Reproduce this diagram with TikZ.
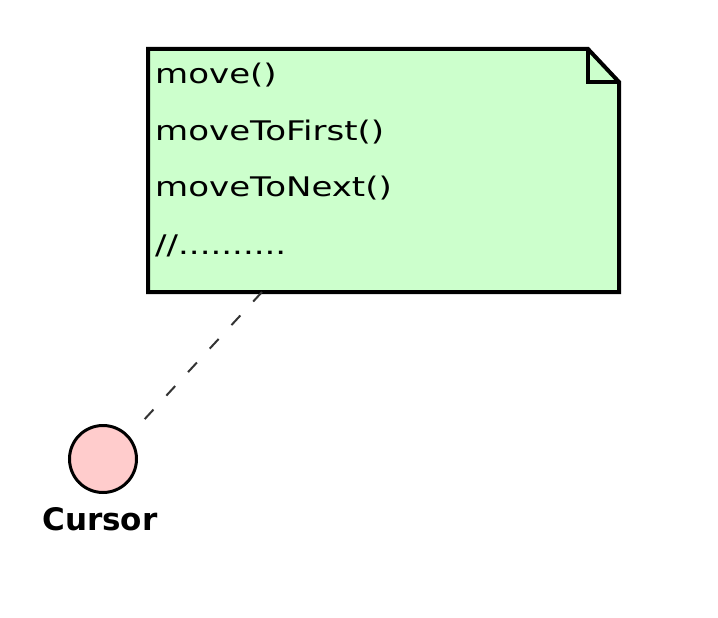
\documentclass[tikz,border=0pt]{standalone}
\usepackage{fontspec}
\newfontfamily\notefont[FakeStretch=1.26]{DejaVu Sans}
\newfontfamily\labelfont{DejaVu Sans}
\definecolor{notegreen}{RGB}{204,255,204}
\definecolor{cursorpink}{RGB}{255,204,204}
\tikzset{
	noteline/.style={anchor=base west,inner sep=0,font=\notefont\fontsize{27}{27}\selectfont},
	link/.style={draw=black!80,line width=2pt,dash pattern=on 13pt off 19pt}
}
\begin{document}
\begin{tikzpicture}[x=1pt,y=-1pt]
	\useasboundingbox[fill=white] (0,0) rectangle (718,618);

	% note with folded corner
	\draw[fill=notegreen,line width=4pt,line join=miter] (148,49) -- (588,49) -- (619,82) -- (619,292) -- (148,292) -- cycle;
	\draw[line width=4pt] (588,49) -- (588,82) -- (619,82);
	\draw[line width=2pt] (588,49) -- (619,82);
	\coordinate (notefoot) at (262,292);

	\node[noteline] (op1) at (155,84) {move()};
	\node[noteline] (op2) at (155,140) {moveToFirst()};
	\node[noteline] (op3) at (155,196) {moveToNext()};
	\node[noteline] (op4) at (155,254) {//..........};

	% interface
	\node[draw,circle,fill=cursorpink,line width=3pt,minimum size=67pt,inner sep=0] (cursor) at (103,459) {};
	\node[anchor=base,inner sep=0,font=\labelfont\bfseries\fontsize{31}{31}\selectfont] (cursorname) at (100,530) {Cursor};
	\coordinate (linkend) at (142,422);

	\draw[link] (notefoot) -- (linkend);
\end{tikzpicture}
\end{document}
